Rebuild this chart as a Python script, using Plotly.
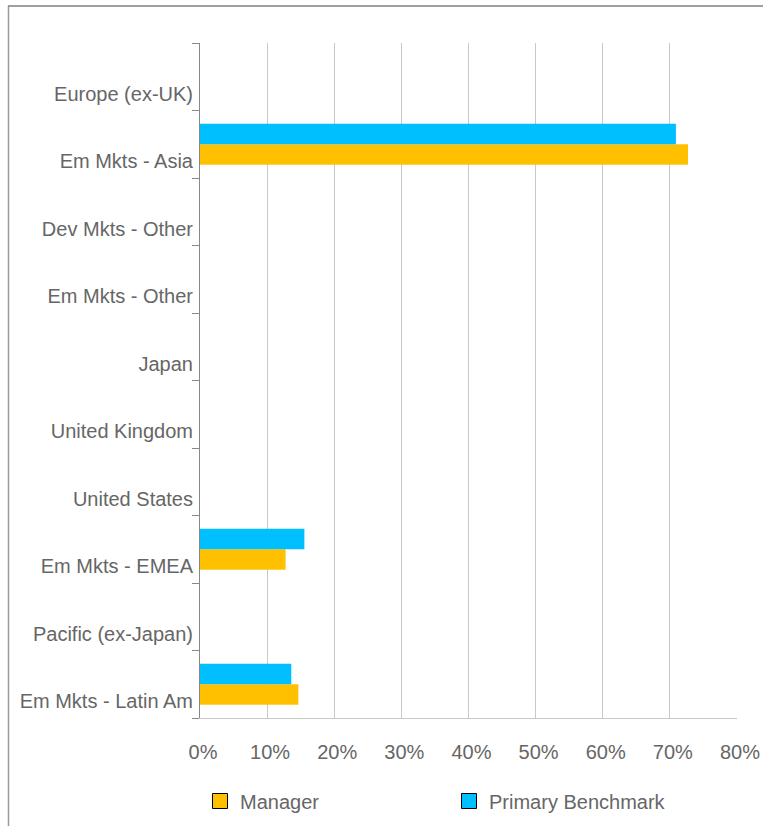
import plotly.graph_objects as go

categories = ["Europe (ex-UK)", "Em Mkts - Asia", "Dev Mkts - Other", "Em Mkts - Other",
              "Japan", "United Kingdom", "United States", "Em Mkts - EMEA",
              "Pacific (ex-Japan)", "Em Mkts - Latin Am"]
manager = [None, 72.7, None, None, None, None, None, 12.75, None, 14.65]
benchmark = [None, 70.9, None, None, None, None, None, 15.55, None, 13.6]
x_ticks = [0, 10, 20, 30, 40, 50, 60, 70, 80]
x_tick_labels = [f"{v}%" for v in x_ticks]

ORANGE = "#FFC000"
CYAN = "#00BFFF"
TXT = "#666666"
FONT = "Liberation Sans, Arial, sans-serif"
FS = 20

fig = go.Figure()
fig.add_trace(go.Bar(y=categories, x=manager, orientation="h", name="Manager",
                     marker=dict(color=ORANGE, line=dict(width=0)),
                     offsetgroup="m", showlegend=False))
fig.add_trace(go.Bar(y=categories, x=benchmark, orientation="h", name="Primary Benchmark",
                     marker=dict(color=CYAN, line=dict(width=0)),
                     offsetgroup="b", showlegend=False))
# legend entries (outlined square swatches)
fig.add_trace(go.Scatter(y=[None], x=[None], mode="markers", name="Manager",
                         marker=dict(color=ORANGE, symbol="square", size=15,
                                     line=dict(color="#000000", width=1)),
                         showlegend=True, legend="legend"))
fig.add_trace(go.Scatter(y=[None], x=[None], mode="markers", name="Primary Benchmark",
                         marker=dict(color=CYAN, symbol="square", size=15,
                                     line=dict(color="#000000", width=1)),
                         showlegend=True, legend="legend2"))

# plot area in pixels: x 200..737, y 43..718
L, R, T, B = 200, 737, 43, 718
W, H = R - L, B - T
def px_x(p):
    return (p - L) / W
def px_y(p):
    return (B - p) / H

leg_common = dict(orientation="h", xref="container", yref="container",
                  xanchor="left", yanchor="middle",
                  font=dict(family=FONT, size=FS, color=TXT),
                  bgcolor="rgba(0,0,0,0)")

fig.update_layout(
    width=763, height=826,
    margin=dict(l=L, r=763 - R, t=T, b=826 - B, pad=0, autoexpand=False),
    paper_bgcolor="white", plot_bgcolor="white",
    barmode="group", bargap=0.39, bargroupgap=0,
    font=dict(family=FONT, size=FS, color=TXT),
    showlegend=True,
    legend=dict(x=200 / 763, y=1 - 801 / 826, **leg_common),
    legend2=dict(x=449 / 763, y=1 - 801 / 826, **leg_common),
    xaxis=dict(range=[0, 80], tickmode="array", tickvals=x_ticks, ticktext=x_tick_labels,
               showgrid=True, gridcolor="#C8C8C8", gridwidth=1,
               showline=True, linecolor="#C8C8C8", linewidth=1, automargin=False,
               zeroline=False, ticks="", ticklabelstandoff=16, ticklabelshift=3,
               tickfont=dict(family=FONT, size=FS, color=TXT), fixedrange=True),
    yaxis=dict(categoryorder="array", categoryarray=categories[::-1],
               showline=True, linecolor="#888888", linewidth=1, automargin=False,
               ticks="outside", tickson="boundaries", ticklen=7, tickcolor="#888888",
               showgrid=False, zeroline=False, ticklabelshift=17, ticklabelstandoff=2,
               tickfont=dict(family=FONT, size=FS, color=TXT), fixedrange=True),
    shapes=[
        dict(type="line", xref="paper", yref="paper",
             x0=px_x(8.5), x1=px_x(8.5), y0=px_y(6), y1=px_y(830),
             line=dict(color="#9A9A9A", width=1.5)),
        dict(type="line", xref="paper", yref="paper",
             x0=px_x(8), x1=px_x(770), y0=px_y(6), y1=px_y(6),
             line=dict(color="#7F7F7F", width=1.5)),
    ],
)

fig.write_html("out.html", config={"displayModeBar": False},
               post_script="document.body.style.margin='0';document.body.style.overflow='hidden';")
